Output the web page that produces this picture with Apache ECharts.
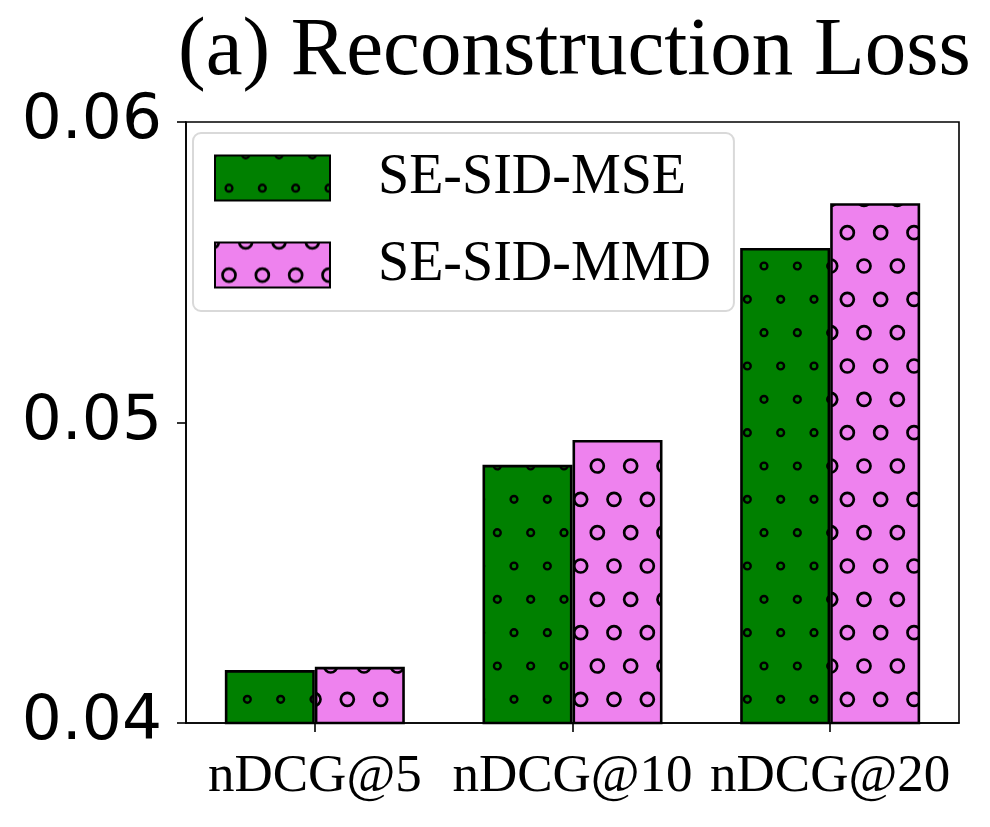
<!DOCTYPE html>
<html>
<head>
<meta charset="utf-8">
<script src="https://cdn.jsdelivr.net/npm/echarts@6/dist/echarts.min.js"></script>
<style>
html,body{margin:0;padding:0;background:#fff;}
#chart{width:990px;height:827px;}
</style>
</head>
<body>
<div id="chart"></div>
<script>
// ---- data ----
const categories = ['nDCG@5', 'nDCG@10', 'nDCG@20'];
const seriesNames = ['SE-SID-MSE', 'SE-SID-MMD'];
const mseValues = [0.04176, 0.04859, 0.05581];
const mmdValues = [0.04187, 0.04942, 0.05730];
const yTicks = [0.04, 0.05, 0.06];

// ---- hatch patterns (circle rings on a staggered grid) ----
function makeHatch(bg, radius, lw) {
  const W = 100, H = 200, step = 100 / 3;
  const c = document.createElement('canvas');
  c.width = W; c.height = H;
  const ctx = c.getContext('2d');
  ctx.fillStyle = bg;
  ctx.fillRect(0, 0, W, H);
  ctx.strokeStyle = '#000';
  ctx.lineWidth = lw;
  for (let j = -30; j <= 30; j++) {
    for (let k = -40; k <= 40; k++) {
      const off = ((j % 2) + 2) % 2 ? step / 2 : 0;
      const gx = 764 + off + k * step - 700;
      const gy = 266 + j * step - 200;
      if (gx < -20 || gx > W + 20 || gy < -20 || gy > H + 20) continue;
      ctx.beginPath();
      ctx.arc(gx, gy, radius, 0, Math.PI * 2);
      ctx.stroke();
    }
  }
  return { image: c, repeat: 'repeat' };
}
const greenHatch = makeHatch('#008000', 3.4, 2.4);
const violetHatch = makeHatch('#ee82ee', 6.5, 2.7);

const serif = 'Liberation Serif';
const chart = echarts.init(document.getElementById('chart'), null, { renderer: 'canvas' });

chart.setOption({
  animation: false,
  backgroundColor: '#fff',
  title: {
    text: '(a) Reconstruction Loss',
    left: 178,
    top: 11,
    padding: 0,
    textStyle: { fontFamily: serif, fontSize: 83, fontWeight: 'normal', color: '#000' }
  },
  grid: {
    left: 186, right: 31, top: 122, bottom: 104,
    show: true, borderColor: '#000', borderWidth: 1.6, backgroundColor: 'transparent',
    containLabel: false
  },
  legend: {
    orient: 'vertical',
    left: 193,
    top: 133,
    data: seriesNames,
    itemWidth: 115,
    itemHeight: 45,
    itemGap: 31,
    padding: [17, 23, 18, 21],
    backgroundColor: '#fff',
    borderColor: '#d9d9d9',
    borderWidth: 2,
    borderRadius: 8,
    icon: 'rect',
    textStyle: { fontFamily: serif, fontSize: 56, color: '#000', padding: [0, 0, 0, 43] }
  },
  xAxis: {
    type: 'category',
    data: categories,
    axisLine: { show: true, lineStyle: { color: '#000', width: 1.6 } },
    axisTick: { show: true, alignWithLabel: true, length: 9, lineStyle: { color: '#000', width: 1.6 } },
    axisLabel: { fontFamily: serif, fontSize: 53, color: '#000', margin: 28, interval: 0, hideOverlap: false },
    splitLine: { show: false }
  },
  yAxis: {
    type: 'value',
    min: yTicks[0],
    max: yTicks[yTicks.length - 1],
    interval: 0.01,
    axisLine: { show: true, lineStyle: { color: '#000', width: 1.6 } },
    axisTick: { show: true, length: 9, lineStyle: { color: '#000', width: 1.6 } },
    axisLabel: {
      fontFamily: 'DejaVu Sans', fontSize: 63, color: '#000', margin: 24,
      formatter: v => v.toFixed(2)
    },
    splitLine: { show: false }
  },
  series: [
    {
      name: seriesNames[0],
      type: 'bar',
      data: mseValues,
      barWidth: 90,
      barGap: '0%',
      itemStyle: { color: greenHatch, borderColor: '#000', borderWidth: 2.6 }
    },
    {
      name: seriesNames[1],
      type: 'bar',
      data: mmdValues,
      barWidth: 90,
      barGap: '0%',
      itemStyle: { color: violetHatch, borderColor: '#000', borderWidth: 2.6 }
    }
  ]
});
</script>
</body>
</html>
